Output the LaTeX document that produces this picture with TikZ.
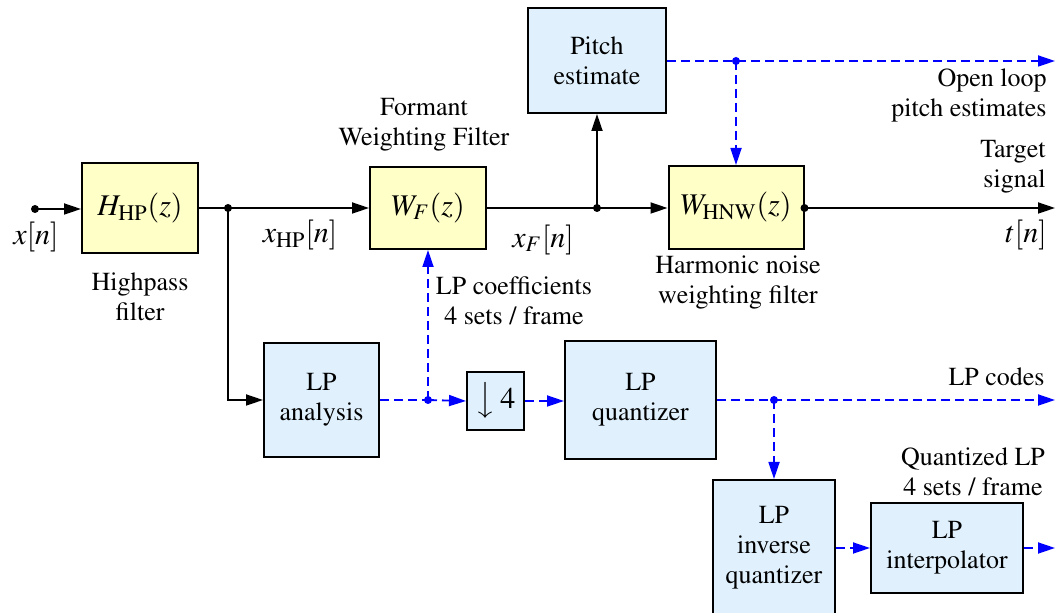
\documentclass[tikz,border=0pt]{standalone}
\usepackage[T1]{fontenc}
\usepackage{mathptmx}
\usetikzlibrary{arrows.meta}
\definecolor{yfill}{RGB}{255,255,200}
\definecolor{bfill}{RGB}{224,241,253}
\definecolor{sigblue}{RGB}{0,0,255}
\newcommand{\mathlab}{\fontsize{15}{18}\selectfont}

\begin{document}
\begin{tikzpicture}[x=0.5pt, y=-0.5pt, font=\fontsize{13}{15}\selectfont,
  yblock/.style={draw=black, line width=1pt, fill=yfill, inner sep=0pt, font=\mathlab},
  bblock/.style={draw=black, line width=1pt, fill=bfill, inner sep=0pt, align=center},
  sig/.style={line width=0.9pt, -{Triangle[length=8.5pt,width=5.5pt]}},
  dsig/.style={sig, sigblue, dash pattern=on 4.5pt off 2.5pt},
  dline/.style={line width=0.9pt, sigblue, dash pattern=on 4.5pt off 2.5pt},
  lab/.style={align=center, inner sep=0pt}]

\useasboundingbox (0,0) rectangle (1055,613);

%% ── blocks ────────────────────────────────────────────────
\node[yblock, minimum width=58pt, minimum height=45pt] (hp) at (140,208)
  {$H_{\mathrm{HP}}(z)$};
\node[yblock, minimum width=58pt, minimum height=41pt] (wf) at (428,208)
  {$W_{F}(z)$};
\node[yblock, minimum width=67.5pt, minimum height=41.5pt] (hnw) at (736,207.5)
  {$W_{\mathrm{HNW}}(z)$};
\node[bblock, minimum width=69pt, minimum height=52.5pt] (pitch) at (597,60.5)
  {Pitch\\estimate};
\node[bblock, minimum width=57.5pt, minimum height=57pt] (lpa) at (321.5,400)
  {LP\\analysis};
\node[bblock, minimum width=28.5pt, minimum height=29pt, font=\mathlab] (dn4) at (495.5,401)
  {$\big\downarrow$\,4};
\node[bblock, minimum width=75.5pt, minimum height=59pt] (lpq) at (640.5,400)
  {LP\\quantizer};
\node[bblock, minimum width=61pt, minimum height=68pt] (iq) at (774,548)
  {LP\\inverse\\quantizer};
\node[bblock, minimum width=76pt, minimum height=45pt] (interp) at (947,548)
  {LP\\interpolator};

%% ── branch points and outputs ─────────────────────────────
\coordinate (in) at (35,209);
\coordinate (j1) at (228,208);
\coordinate (j2) at (597,208);
\coordinate (d1) at (736,61);
\coordinate (d2) at (428,400);
\coordinate (d3) at (774,400);
\coordinate (out1) at (1055,61);
\coordinate (out2) at (1055,208);
\coordinate (out3) at (1055,400);
\coordinate (out4) at (1055,548);

%% ── signal path (solid) ───────────────────────────────────
\draw[sig] (in) -- (hp.west |- in);
\draw[line width=0.9pt] (hp.east) -- (j1);
\draw[sig] (j1) -- (wf.west);
\draw[sig] (j1) |- (lpa.west);
\draw[line width=0.9pt] (wf.east) -- (j2);
\draw[sig] (j2) -- (hnw.west |- j2);
\draw[sig] (j2) -- (pitch.south);
\draw[sig] (hnw.east |- out2) -- (out2);

%% ── parameter path (dashed blue) ──────────────────────────
\draw[dsig] (pitch.east |- d1) -- (out1);
\draw[dsig] (d1) -- (hnw.north);
\draw[dline] (lpa.east |- d2) -- (d2);
\draw[dsig] (d2) -- (dn4.west);
\draw[dsig] (d2) -- (wf.south);
\draw[dsig] (dn4.east) -- (lpq.west |- dn4);
\draw[dsig] (lpq.east |- d3) -- (out3);
\draw[dsig] (d3) -- (iq.north);
\draw[dsig] (iq.east |- interp) -- (interp.west);
\draw[dsig] (interp.east) -- (out4);

%% ── dots ──────────────────────────────────────────────────
\fill (in) circle (2pt);
\fill (j1) circle (2pt);
\fill (j2) circle (2pt);
\fill (hnw.east |- out2) circle (2pt);
\fill[sigblue] (d1) circle (2pt);
\fill[sigblue] (d2) circle (2pt);
\fill[sigblue] (d3) circle (2pt);

%% ── labels ────────────────────────────────────────────────
\node[lab, font=\mathlab] (xin) at (36,237) {$x[n]$};
\node[lab] (hplab) at (140,297) {Highpass\\filter};
\node[lab, font=\mathlab] (xhp) at (300,235) {$x_{\mathrm{HP}}[n]$};
\node[lab] (wflab) at (424,125) {Formant\\Weighting Filter};
\node[lab, font=\mathlab] (xf) at (543,240) {$x_{F}[n]$};
\node[lab] (coeflab) at (514,301) {LP coefficients\\4 sets / frame};
\node[lab, align=right, anchor=east] (ollab) at (1047,96) {Open loop\\pitch estimates};
\node[lab, align=right, anchor=east] (tglab) at (1046,167) {Target\\signal};
\node[lab, anchor=east, font=\mathlab] (tn) at (1047,235) {$t[n]$};
\node[lab] (hnwlab) at (738,283) {Harmonic noise\\weighting filter};
\node[lab, anchor=east] (codelab) at (1045,377) {LP codes};
\node[lab] (qlab) at (973,472) {Quantized LP\\4 sets / frame};

\end{tikzpicture}
\end{document}
